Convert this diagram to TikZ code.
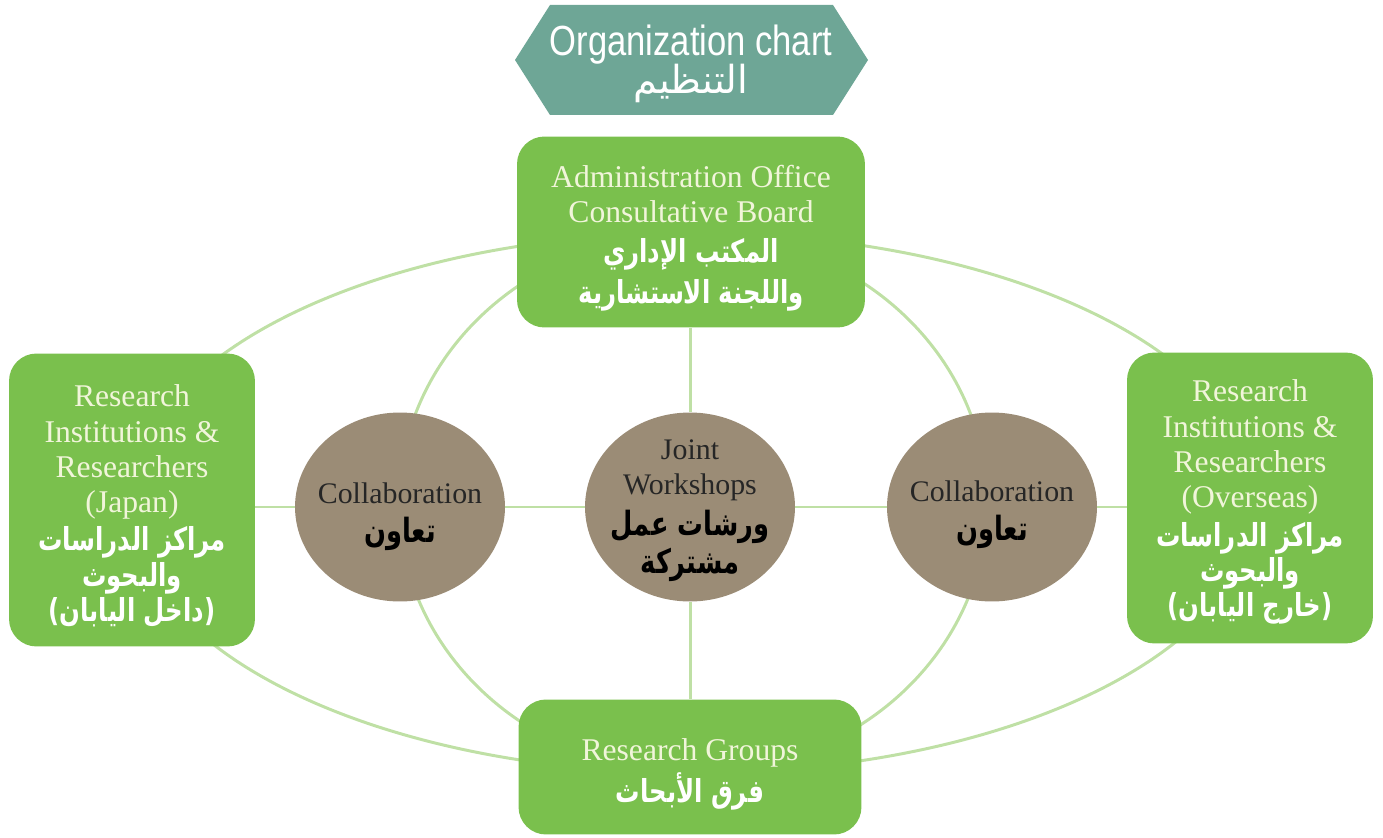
\documentclass[tikz,border=0pt]{standalone}
\usepackage{fontspec}
\setmainfont{Liberation Serif}
\newfontfamily\arfont[Script=Arabic,FakeStretch=0.77]{DejaVu Sans}
\newfontfamily\artitle[Script=Arabic]{DejaVu Sans}
\newfontfamily\titlefont[FakeStretch=0.82]{Liberation Sans}
\TeXXeTstate=1
\usetikzlibrary{backgrounds,shapes.geometric}
\definecolor{boxgreen}{HTML}{7AC04D}
\definecolor{linkgreen}{HTML}{BFE0A5}
\definecolor{circbrown}{HTML}{9B8C76}
\definecolor{hexteal}{HTML}{6EA696}
\definecolor{cream}{HTML}{F1F5DA}
\definecolor{darktext}{HTML}{262626}
\newcommand\AR[1]{{\arfont\bfseries\fontsize{18}{20}\selectfont\beginR #1\endR}}
\newcommand\ARC[1]{{\arfont\bfseries\fontsize{19}{20}\selectfont\beginR #1\endR}}
\begin{document}
\begin{tikzpicture}[x=0.02cm,y=-0.02cm,
  gbox/.style={fill=boxgreen, rounded corners=0.55cm, inner sep=0pt},
  gtext/.style={text=cream, align=center, inner sep=0pt, font=\fontsize{18}{20}\selectfont},
  circ/.style={ellipse, fill=circbrown, inner sep=0pt,
    minimum width=4.2cm, minimum height=3.78cm},
  ctext/.style={text=darktext, align=center, inner sep=0pt, font=\fontsize{17}{20}\selectfont},
  link/.style={draw=linkgreen, line width=1.7pt}]
\useasboundingbox (0,0) rectangle (1383,838);
% title hexagon
\fill[hexteal] (515,60) -- (550,5) -- (833,5) -- (868,60) -- (833,115) -- (550,115) -- cycle;
\node[text=white, align=center, inner sep=0pt] (title) at (691,64)
  {{\titlefont\fontsize{24}{28}\selectfont Organization chart}\\[-1pt]
   {\artitle\fontsize{22}{26}\selectfont\beginR التنظيم\endR}};
% boxes
\node[gbox, minimum width=6.96cm, minimum height=3.82cm] (top) at (691,232) {};
\node[gtext] (topT) at (691,238)
  {Administration Office\\ Consultative Board\\[3pt]
   {\color{white}\AR{المكتب الإداري}}\\[3pt]
   {\color{white}\AR{واللجنة الاستشارية}}};
\node[gbox, minimum width=4.92cm, minimum height=5.86cm] (left) at (132,500) {};
\node[gtext] (leftT) at (132,506)
  {Research\\ Institutions \&\\ Researchers\\ (Japan)\\[2pt]
   {\color{white}\AR{مراكز الدراسات}}\\
   {\color{white}\AR{والبحوث}}\\
   {\color{white}\AR{(داخل اليابان)}}};
\node[gbox, minimum width=4.92cm, minimum height=5.82cm] (right) at (1250,498) {};
\node[gtext] (rightT) at (1250,502)
  {Research\\ Institutions \&\\ Researchers\\ (Overseas)\\[2pt]
   {\color{white}\AR{مراكز الدراسات}}\\
   {\color{white}\AR{والبحوث}}\\
   {\color{white}\AR{(خارج اليابان)}}};
\node[gbox, minimum width=6.86cm, minimum height=2.7cm] (bottom) at (690,767) {};
\node[gtext] (bottomT) at (690,774)
  {Research Groups\\[2pt] {\color{white}\AR{فرق الأبحاث}}};
% circles
\node[circ] (lc) at (400,507) {};
\node[ctext] (lcT) at (400,517) {Collaboration\\[2pt] {\color{black}\ARC{تعاون}}};
\node[circ] (cc) at (690,507) {};
\node[ctext] (ccT) at (690,511) {Joint\\ Workshops\\[3pt] {\color{black}\ARC{ورشات عمل}}\\[2pt] {\color{black}\ARC{مشتركة}}};
\node[circ] (rc) at (992,507) {};
\node[ctext] (rcT) at (992,515) {Collaboration\\[2pt] {\color{black}\ARC{تعاون}}};
\coordinate (hub) at (693,503);
\begin{pgfonlayer}{background}
  \draw[link] (hub) ellipse [x radius=11.26cm, y radius=5.4cm];
  \draw[link] (hub) ellipse [x radius=5.88cm, y radius=5.4cm];
  \draw[link] (lc.west -| left.east) -- (lc.west);
  \draw[link] (lc.east) -- (lc.east -| cc.west);
  \draw[link] (cc.east |- rc.west) -- (rc.west);
  \draw[link] (rc.east) -- (rc.east -| right.west);
  \draw[link] (top.south -| cc.north) -- (cc.north);
  \draw[link] (cc.south) -- (cc.south |- bottom.north);
\end{pgfonlayer}
\end{tikzpicture}
\end{document}
